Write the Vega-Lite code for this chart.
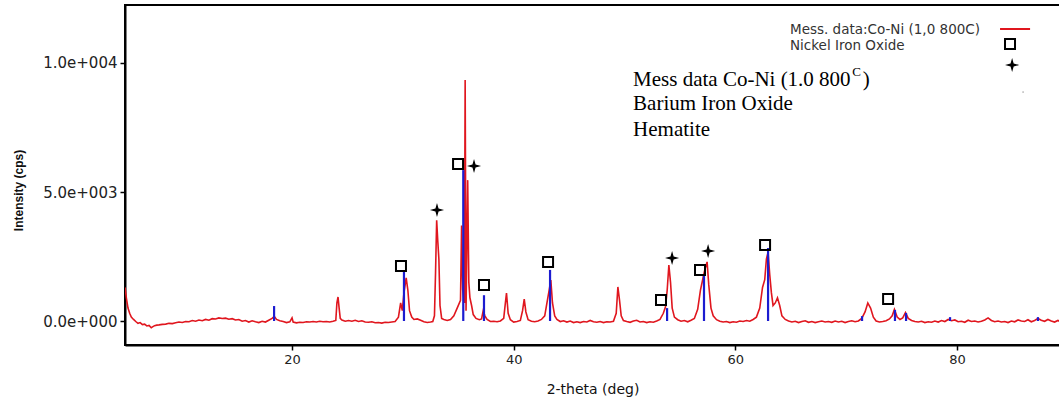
{
  "$schema": "https://vega.github.io/schema/vega-lite/v6.json",
  "width": 935,
  "height": 340,
  "autosize": {"type": "none"},
  "padding": {"left": 125, "top": 5, "right": 0, "bottom": 57},
  "background": "white",
  "config": {
    "view": {"stroke": "black", "strokeWidth": 2},
    "axis": {"labelFont": "DejaVu Sans", "titleFont": "DejaVu Sans", "labelColor": "#222", "titleColor": "#111", "domainColor": "black", "domainWidth": 2, "tickColor": "black", "tickWidth": 1.5, "grid": false}
  },
  "datasets": {
    "pattern": [
      {"theta":4.93,"cps":1300},{"theta":5.05,"cps":900},{"theta":5.2,"cps":500},{"theta":5.35,"cps":300},{"theta":5.5,"cps":150},{"theta":5.7,"cps":60},{"theta":5.9,"cps":-20},{"theta":6.1,"cps":-90},{"theta":6.3,"cps":-60},{"theta":6.5,"cps":-140},{"theta":6.7,"cps":-120},{"theta":6.9,"cps":-190},{"theta":7.1,"cps":-170},{"theta":7.3,"cps":-260},{"theta":7.45,"cps":-220},{"theta":7.6,"cps":-180},{"theta":7.8,"cps":-160},{"theta":8.0,"cps":-150},{"theta":8.3,"cps":-130},{"theta":8.6,"cps":-120},{"theta":8.9,"cps":-90},{"theta":9.2,"cps":-100},{"theta":9.5,"cps":-70},{"theta":9.8,"cps":-40},{"theta":10.1,"cps":-60},{"theta":10.4,"cps":-20},{"theta":10.7,"cps":-30},{"theta":11.0,"cps":20},{"theta":11.3,"cps":-10},{"theta":11.6,"cps":40},{"theta":11.9,"cps":10},{"theta":12.2,"cps":60},{"theta":12.5,"cps":30},{"theta":12.8,"cps":90},{"theta":13.1,"cps":80},{"theta":13.4,"cps":120},{"theta":13.7,"cps":100},{"theta":14.0,"cps":110},{"theta":14.3,"cps":70},{"theta":14.6,"cps":90},{"theta":14.9,"cps":40},{"theta":15.2,"cps":60},{"theta":15.5,"cps":-10},{"theta":15.8,"cps":20},{"theta":16.1,"cps":-40},{"theta":16.4,"cps":10},{"theta":16.7,"cps":-30},{"theta":17.0,"cps":-60},{"theta":17.3,"cps":-10},{"theta":17.6,"cps":-40},{"theta":17.9,"cps":30},{"theta":18.2,"cps":100},{"theta":18.4,"cps":180},{"theta":18.6,"cps":60},{"theta":18.9,"cps":10},{"theta":19.2,"cps":-20},{"theta":19.5,"cps":-60},{"theta":19.8,"cps":-30},{"theta":20.0,"cps":120},{"theta":20.1,"cps":-40},{"theta":20.4,"cps":-70},{"theta":20.7,"cps":-50},{"theta":21.0,"cps":-60},{"theta":21.3,"cps":-30},{"theta":21.6,"cps":-40},{"theta":21.9,"cps":-20},{"theta":22.2,"cps":-40},{"theta":22.5,"cps":-10},{"theta":22.8,"cps":-30},{"theta":23.1,"cps":-20},{"theta":23.4,"cps":-40},{"theta":23.7,"cps":-10},{"theta":23.95,"cps":20},{"theta":24.05,"cps":700},{"theta":24.15,"cps":930},{"theta":24.25,"cps":500},{"theta":24.35,"cps":100},{"theta":24.5,"cps":40},{"theta":24.8,"cps":-10},{"theta":25.1,"cps":20},{"theta":25.4,"cps":-10},{"theta":25.7,"cps":30},{"theta":26.0,"cps":-20},{"theta":26.3,"cps":10},{"theta":26.6,"cps":-40},{"theta":26.9,"cps":-50},{"theta":27.2,"cps":-30},{"theta":27.5,"cps":-70},{"theta":27.8,"cps":-60},{"theta":28.1,"cps":-80},{"theta":28.4,"cps":-50},{"theta":28.7,"cps":-60},{"theta":29.0,"cps":-40},{"theta":29.3,"cps":-20},{"theta":29.6,"cps":150},{"theta":29.8,"cps":700},{"theta":29.95,"cps":400},{"theta":30.1,"cps":1100},{"theta":30.3,"cps":1670},{"theta":30.45,"cps":1200},{"theta":30.6,"cps":400},{"theta":30.8,"cps":150},{"theta":31.0,"cps":60},{"theta":31.3,"cps":80},{"theta":31.6,"cps":30},{"theta":31.9,"cps":-30},{"theta":32.2,"cps":-60},{"theta":32.5,"cps":-40},{"theta":32.7,"cps":-20},{"theta":32.85,"cps":200},{"theta":32.95,"cps":1900},{"theta":33.05,"cps":3900},{"theta":33.15,"cps":3100},{"theta":33.25,"cps":2400},{"theta":33.35,"cps":600},{"theta":33.5,"cps":100},{"theta":33.7,"cps":60},{"theta":34.0,"cps":20},{"theta":34.3,"cps":60},{"theta":34.6,"cps":200},{"theta":34.9,"cps":500},{"theta":35.2,"cps":800},{"theta":35.3,"cps":3700},{"theta":35.4,"cps":1200},{"theta":35.55,"cps":700},{"theta":35.62,"cps":9340},{"theta":35.7,"cps":400},{"theta":35.85,"cps":5460},{"theta":35.95,"cps":1500},{"theta":36.05,"cps":900},{"theta":36.2,"cps":600},{"theta":36.35,"cps":250},{"theta":36.6,"cps":100},{"theta":36.9,"cps":50},{"theta":37.1,"cps":80},{"theta":37.25,"cps":400},{"theta":37.4,"cps":200},{"theta":37.6,"cps":60},{"theta":37.9,"cps":-20},{"theta":38.2,"cps":-10},{"theta":38.5,"cps":-30},{"theta":38.8,"cps":0},{"theta":39.1,"cps":100},{"theta":39.25,"cps":700},{"theta":39.35,"cps":1080},{"theta":39.5,"cps":300},{"theta":39.7,"cps":50},{"theta":40.0,"cps":-40},{"theta":40.3,"cps":-20},{"theta":40.6,"cps":20},{"theta":40.8,"cps":400},{"theta":40.95,"cps":850},{"theta":41.1,"cps":350},{"theta":41.3,"cps":50},{"theta":41.6,"cps":-10},{"theta":41.9,"cps":-30},{"theta":42.2,"cps":0},{"theta":42.5,"cps":60},{"theta":42.8,"cps":200},{"theta":43.0,"cps":700},{"theta":43.2,"cps":1200},{"theta":43.35,"cps":1590},{"theta":43.5,"cps":700},{"theta":43.7,"cps":200},{"theta":43.9,"cps":60},{"theta":44.2,"cps":-20},{"theta":44.5,"cps":10},{"theta":44.8,"cps":-40},{"theta":45.1,"cps":0},{"theta":45.4,"cps":-60},{"theta":45.7,"cps":-30},{"theta":46.0,"cps":-60},{"theta":46.3,"cps":-20},{"theta":46.6,"cps":-40},{"theta":46.9,"cps":20},{"theta":47.2,"cps":-30},{"theta":47.5,"cps":-50},{"theta":47.8,"cps":-20},{"theta":48.1,"cps":-60},{"theta":48.4,"cps":-30},{"theta":48.7,"cps":-40},{"theta":49.0,"cps":-10},{"theta":49.25,"cps":300},{"theta":49.4,"cps":1320},{"theta":49.55,"cps":800},{"theta":49.7,"cps":200},{"theta":49.9,"cps":20},{"theta":50.2,"cps":-20},{"theta":50.5,"cps":-50},{"theta":50.8,"cps":0},{"theta":51.1,"cps":30},{"theta":51.4,"cps":-40},{"theta":51.7,"cps":-20},{"theta":52.0,"cps":-60},{"theta":52.3,"cps":-30},{"theta":52.6,"cps":-50},{"theta":52.9,"cps":0},{"theta":53.2,"cps":60},{"theta":53.5,"cps":300},{"theta":53.7,"cps":550},{"theta":53.85,"cps":1200},{"theta":54.0,"cps":2170},{"theta":54.15,"cps":1500},{"theta":54.3,"cps":500},{"theta":54.5,"cps":150},{"theta":54.8,"cps":50},{"theta":55.1,"cps":-10},{"theta":55.4,"cps":20},{"theta":55.7,"cps":-30},{"theta":56.0,"cps":30},{"theta":56.3,"cps":100},{"theta":56.6,"cps":450},{"theta":56.85,"cps":1200},{"theta":57.05,"cps":1600},{"theta":57.25,"cps":2000},{"theta":57.45,"cps":2290},{"theta":57.6,"cps":1400},{"theta":57.8,"cps":500},{"theta":58.0,"cps":200},{"theta":58.3,"cps":50},{"theta":58.6,"cps":-10},{"theta":58.9,"cps":-40},{"theta":59.2,"cps":-20},{"theta":59.5,"cps":-60},{"theta":59.8,"cps":-30},{"theta":60.1,"cps":-50},{"theta":60.4,"cps":0},{"theta":60.7,"cps":-20},{"theta":61.0,"cps":20},{"theta":61.3,"cps":-10},{"theta":61.6,"cps":60},{"theta":61.9,"cps":150},{"theta":62.2,"cps":500},{"theta":62.45,"cps":1300},{"theta":62.65,"cps":1600},{"theta":62.8,"cps":2400},{"theta":62.95,"cps":2670},{"theta":63.1,"cps":1800},{"theta":63.25,"cps":1100},{"theta":63.4,"cps":600},{"theta":63.6,"cps":700},{"theta":63.8,"cps":900},{"theta":64.0,"cps":600},{"theta":64.2,"cps":200},{"theta":64.5,"cps":60},{"theta":64.8,"cps":0},{"theta":65.1,"cps":-40},{"theta":65.4,"cps":-10},{"theta":65.7,"cps":-60},{"theta":66.0,"cps":-20},{"theta":66.3,"cps":10},{"theta":66.6,"cps":-50},{"theta":66.9,"cps":-20},{"theta":67.2,"cps":-60},{"theta":67.5,"cps":-30},{"theta":67.8,"cps":0},{"theta":68.1,"cps":-40},{"theta":68.4,"cps":-20},{"theta":68.7,"cps":-50},{"theta":69.0,"cps":0},{"theta":69.3,"cps":-40},{"theta":69.6,"cps":-10},{"theta":69.9,"cps":-60},{"theta":70.2,"cps":-20},{"theta":70.5,"cps":10},{"theta":70.8,"cps":-30},{"theta":71.1,"cps":0},{"theta":71.4,"cps":100},{"theta":71.7,"cps":350},{"theta":71.95,"cps":700},{"theta":72.2,"cps":500},{"theta":72.45,"cps":150},{"theta":72.7,"cps":0},{"theta":73.0,"cps":-40},{"theta":73.3,"cps":-20},{"theta":73.6,"cps":10},{"theta":73.9,"cps":80},{"theta":74.15,"cps":200},{"theta":74.35,"cps":450},{"theta":74.6,"cps":150},{"theta":74.85,"cps":60},{"theta":75.1,"cps":120},{"theta":75.35,"cps":330},{"theta":75.6,"cps":100},{"theta":75.9,"cps":20},{"theta":76.2,"cps":-20},{"theta":76.5,"cps":-40},{"theta":76.8,"cps":-10},{"theta":77.1,"cps":-60},{"theta":77.4,"cps":-30},{"theta":77.7,"cps":-50},{"theta":78.0,"cps":0},{"theta":78.3,"cps":-40},{"theta":78.6,"cps":20},{"theta":78.9,"cps":-20},{"theta":79.2,"cps":60},{"theta":79.5,"cps":10},{"theta":79.8,"cps":40},{"theta":80.1,"cps":-30},{"theta":80.4,"cps":-10},{"theta":80.7,"cps":-50},{"theta":81.0,"cps":30},{"theta":81.3,"cps":-20},{"theta":81.6,"cps":0},{"theta":81.9,"cps":-40},{"theta":82.2,"cps":-10},{"theta":82.5,"cps":40},{"theta":82.8,"cps":120},{"theta":83.1,"cps":20},{"theta":83.4,"cps":-30},{"theta":83.7,"cps":0},{"theta":84.0,"cps":-40},{"theta":84.3,"cps":-20},{"theta":84.6,"cps":-60},{"theta":84.9,"cps":0},{"theta":85.2,"cps":-30},{"theta":85.5,"cps":40},{"theta":85.8,"cps":0},{"theta":86.1,"cps":-20},{"theta":86.4,"cps":50},{"theta":86.7,"cps":-30},{"theta":87.0,"cps":20},{"theta":87.3,"cps":100},{"theta":87.6,"cps":30},{"theta":87.9,"cps":-10},{"theta":88.2,"cps":60},{"theta":88.5,"cps":0},{"theta":88.8,"cps":-40},{"theta":89.1,"cps":20},{"theta":89.3,"cps":-20}
    ],
    "refs": [
      {"theta":18.38,"cps":580},{"theta":30.1,"cps":1977},{"theta":35.45,"cps":5850},{"theta":37.32,"cps":1000},{"theta":43.28,"cps":1980},{"theta":53.84,"cps":500},{"theta":57.17,"cps":1780},{"theta":62.95,"cps":2830},{"theta":71.43,"cps":190},{"theta":74.4,"cps":430},{"theta":75.4,"cps":310},{"theta":79.37,"cps":150},{"theta":87.3,"cps":150}
    ],
    "squares": [
      {"theta":29.83,"cps":2132},{"theta":34.98,"cps":6085},{"theta":37.32,"cps":1395},{"theta":43.1,"cps":2287},{"theta":53.29,"cps":814},{"theta":56.81,"cps":1977},{"theta":62.68,"cps":2946},{"theta":73.78,"cps":853},{"theta":84.78,"cps":10737}
    ],
    "stars": [
      {"theta":33.08,"cps":4302},{"theta":36.42,"cps":6008},{"theta":54.29,"cps":2442},{"theta":57.54,"cps":2713},{"theta":84.97,"cps":9923}
    ],
    "legendText": [
      {"theta":64.93,"cps":11279,"label":"Mess. data:Co-Ni (1,0 800C)"},
      {"theta":64.93,"cps":10659,"label":"Nickel Iron Oxide"}
    ],
    "legendLine": [{"theta":83.88,"theta2":86.59,"cps":11318}],
    "legendDot": [{"theta":85.96,"cps":8876}],
    "notes": [
      {"theta":50.77,"cps":9341,"label":"Mess data Co-Ni (1.0 800"},
      {"theta":50.77,"cps":8411,"label":"Barium Iron Oxide"},
      {"theta":50.77,"cps":7403,"label":"Hematite"}
    ],
    "sup": [{"theta":70.55,"cps":9650,"label":"C"}],
    "paren": [{"theta":71.5,"cps":9341,"label":")"}]
  },
  "layer": [
    {
      "data": {"name": "pattern"},
      "mark": {"type": "line", "color": "#e0161e", "strokeWidth": 1.6, "clip": true},
      "encoding": {
        "x": {"field": "theta", "type": "quantitative", "scale": {"domain": [4.93, 89.29], "nice": false, "zero": false},
          "axis": {"values": [20, 40, 60, 80], "title": "2-theta (deg)", "labelFontSize": 13, "titleFontSize": 14, "titleFontWeight": "normal", "tickSize": 5, "labelPadding": 3, "titlePadding": 16}},
        "y": {"field": "cps", "type": "quantitative", "scale": {"domain": [-930, 12248], "nice": false, "zero": false},
          "axis": {"values": [0, 5000, 10000], "labelExpr": "datum.value == 0 ? '0.0e+000' : datum.value == 5000 ? '5.0e+003' : '1.0e+004'", "title": "Intensity (cps)", "labelFontSize": 15, "titleFontSize": 12, "titleFontWeight": "bold", "titleFont": "Liberation Sans", "titleY": 185, "tickSize": 5, "labelPadding": 3, "titlePadding": 17}}
      }
    },
    {
      "data": {"name": "refs"},
      "mark": {"type": "rule", "color": "#1c1cd0", "strokeWidth": 2.2},
      "encoding": {
        "x": {"field": "theta", "type": "quantitative"},
        "y": {"field": "cps", "type": "quantitative"},
        "y2": {"datum": 0}
      }
    },
    {
      "data": {"name": "squares"},
      "mark": {"type": "point", "shape": "square", "filled": false, "color": "black", "strokeWidth": 2, "size": 100, "opacity": 1},
      "encoding": {
        "x": {"field": "theta", "type": "quantitative"},
        "y": {"field": "cps", "type": "quantitative"}
      }
    },
    {
      "data": {"name": "stars"},
      "mark": {"type": "point", "shape": "M0,-1 L0.22,-0.22 L1,0 L0.22,0.22 L0,1 L-0.22,0.22 L-1,0 L-0.22,-0.22 Z", "filled": true, "color": "black", "size": 200, "opacity": 1},
      "encoding": {
        "x": {"field": "theta", "type": "quantitative"},
        "y": {"field": "cps", "type": "quantitative"}
      }
    },
    {
      "data": {"name": "legendText"},
      "mark": {"type": "text", "align": "left", "baseline": "middle", "font": "DejaVu Sans", "fontSize": 13.5, "color": "#333"},
      "encoding": {
        "x": {"field": "theta", "type": "quantitative"},
        "y": {"field": "cps", "type": "quantitative"},
        "text": {"field": "label"}
      }
    },
    {
      "data": {"name": "legendLine"},
      "mark": {"type": "rule", "color": "#e0161e", "strokeWidth": 2},
      "encoding": {
        "x": {"field": "theta", "type": "quantitative"},
        "x2": {"field": "theta2"},
        "y": {"field": "cps", "type": "quantitative"}
      }
    },
    {
      "data": {"name": "legendDot"},
      "mark": {"type": "point", "shape": "circle", "filled": true, "color": "#888", "size": 3},
      "encoding": {
        "x": {"field": "theta", "type": "quantitative"},
        "y": {"field": "cps", "type": "quantitative"}
      }
    },
    {
      "data": {"name": "notes"},
      "mark": {"type": "text", "align": "left", "baseline": "middle", "font": "Liberation Serif", "fontSize": 21, "color": "black"},
      "encoding": {
        "x": {"field": "theta", "type": "quantitative"},
        "y": {"field": "cps", "type": "quantitative"},
        "text": {"field": "label"}
      }
    },
    {
      "data": {"name": "sup"},
      "mark": {"type": "text", "align": "left", "baseline": "middle", "font": "Liberation Serif", "fontSize": 13, "color": "black"},
      "encoding": {
        "x": {"field": "theta", "type": "quantitative"},
        "y": {"field": "cps", "type": "quantitative"},
        "text": {"field": "label"}
      }
    },
    {
      "data": {"name": "paren"},
      "mark": {"type": "text", "align": "left", "baseline": "middle", "font": "Liberation Serif", "fontSize": 21, "color": "black"},
      "encoding": {
        "x": {"field": "theta", "type": "quantitative"},
        "y": {"field": "cps", "type": "quantitative"},
        "text": {"field": "label"}
      }
    }
  ]
}
